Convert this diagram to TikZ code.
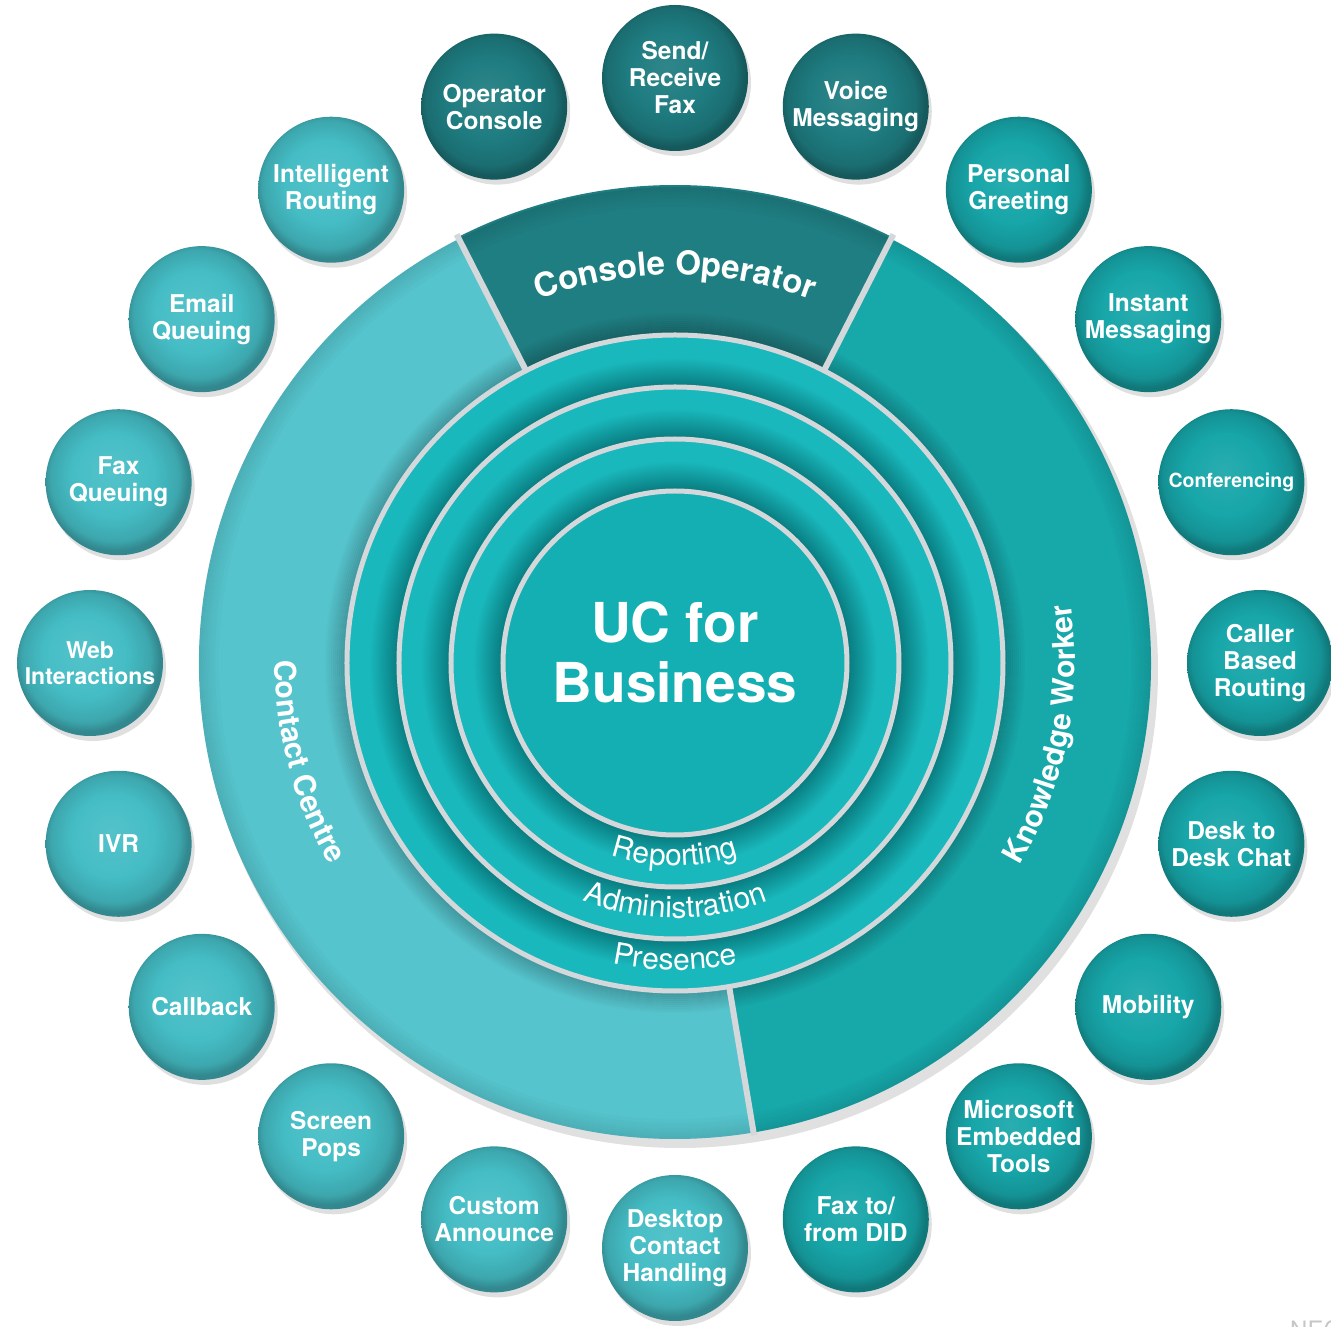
\documentclass[tikz,border=0pt]{standalone}
\usepackage{fontspec}
\setmainfont{TeX Gyre Heros}
\usetikzlibrary{decorations.text, shadows}

\definecolor{bubdark}{RGB}{30,124,128}
\definecolor{bubmid}{RGB}{23,166,169}
\definecolor{bublight}{RGB}{69,189,197}
\definecolor{ccteal}{RGB}{86,196,205}
\definecolor{kwteal}{RGB}{23,168,170}
\definecolor{coteal}{RGB}{31,126,130}
\definecolor{hubteal}{RGB}{20,175,179}
\definecolor{bandlight}{RGB}{25,184,188}
\definecolor{banddark}{RGB}{8,122,126}
\definecolor{gapgray}{RGB}{212,216,218}

\pgfdeclareradialshading{hubrings}{\pgfpointorigin}{color(0bp)=(hubteal); color(13.1bp)=(hubteal);
  color(13.15bp)=(banddark); color(15.4bp)=(bandlight); color(17.05bp)=(bandlight);
  color(17.1bp)=(banddark); color(19.4bp)=(bandlight); color(21bp)=(bandlight);
  color(21.05bp)=(banddark); color(23.3bp)=(bandlight); color(25bp)=(bandlight); color(40bp)=(bandlight)}
\pgfdeclareradialshading{bubshdark}{\pgfpoint{-3bp}{4bp}}{color(0bp)=(bubdark!92!white); color(14bp)=(bubdark);
  color(22bp)=(bubdark!88!black); color(25bp)=(bubdark!72!black); color(40bp)=(bubdark!72!black)}
\pgfdeclareradialshading{bubshmid}{\pgfpoint{-3bp}{4bp}}{color(0bp)=(bubmid!92!white); color(14bp)=(bubmid);
  color(22bp)=(bubmid!88!black); color(25bp)=(bubmid!72!black); color(40bp)=(bubmid!72!black)}
\pgfdeclareradialshading{bubshlight}{\pgfpoint{-3bp}{4bp}}{color(0bp)=(bublight!92!white); color(14bp)=(bublight);
  color(22bp)=(bublight!88!black); color(25bp)=(bublight!72!black); color(40bp)=(bublight!72!black)}

\newcommand\bubfont{\fontsize{24.5}{27}\selectfont\bfseries}
\newcommand\hubfont{\fontsize{55}{60}\selectfont\bfseries}
\newcommand\segfont{\color{white}\fontsize{33}{33}\selectfont\bfseries}
\newcommand\sidefont{\color{white}\fontsize{30}{30}\selectfont\bfseries}
\newcommand\ringfont{\color{white}\fontsize{30}{30}\selectfont}

\begin{document}
\begin{tikzpicture}[x=1pt, y=1pt]
	\tikzset{bubble/.style={circle, minimum size=146pt, inner sep=0pt, align=center, text=white, font=\bubfont,
			drop shadow={shadow xshift=3pt, shadow yshift=-5pt, opacity=0.25}},
		dark bubble/.style={bubble, shading=bubshdark},
		mid bubble/.style={bubble, shading=bubshmid},
		light bubble/.style={bubble, shading=bubshlight},
		gapline/.style={gapgray, line width=6pt},
		arclabel/.style={decorate, decoration={text along path, text align=center, text={#1}}}}

	\useasboundingbox (-675,-664) rectangle (656,663);

	\fill[black, opacity=0.12] (5,-7) circle[radius=478];
	\fill[ccteal] (0,0) -- (117:476) arc[start angle=117, end angle=279.5, radius=476] -- cycle;
	\fill[kwteal] (0,0) -- (-80.5:476) arc[start angle=-80.5, end angle=63, radius=476] -- cycle;
	\fill[coteal] (0,0) -- (63:478) arc[start angle=63, end angle=117, radius=478] -- cycle;
	\foreach \d [evaluate=\d as \op using 0.02*(10-\d)] in {0,...,9} {
		\draw[black, opacity=\op, line width=2pt] (0,0) circle[radius=331+2*\d];
		\draw[black, opacity=\op/2, line width=2pt] (0,0) circle[radius=475-2*\d];
	}
	\draw[gapline] (63:326) -- (63:481);
	\draw[gapline] (117:326) -- (117:481);
	\draw[gapline] (-80.5:326) -- (-80.5:479);

	\shade[shading=hubrings] (0,0) circle[radius=328];
	\foreach \r in {328,276,224,172}
		\draw[gapgray, line width=5pt] (0,0) circle[radius=\r];

	\node[text=white, align=center, font=\hubfont] (hub) at (0,11) {UC for\\Business};

	\path[arclabel={|\segfont|Console Operator}] (130:388) arc[start angle=130, end angle=50, radius=388];
	\path[arclabel={|\sidefont|Contact Centre}] (145:400) arc[start angle=145, end angle=245, radius=400];
	\path[arclabel={|\sidefont|Knowledge Worker}] (-61:400) arc[start angle=-61, end angle=39, radius=400];
	\path[arclabel={|\ringfont|Reporting}] (220:203) arc[start angle=220, end angle=320, radius=203];
	\path[arclabel={|\ringfont|Administration}] (220:255) arc[start angle=220, end angle=320, radius=255];
	\path[arclabel={|\ringfont|Presence}] (220:307) arc[start angle=220, end angle=320, radius=307];

	\node[dark bubble] (opconsole) at (108:585) {Operator\\Console};
	\node[dark bubble] (faxsend) at (90:585) {Send/\\Receive\\Fax};
	\node[dark bubble] (voicemsg) at (72:585) {Voice\\Messaging};
	\node[mid bubble] (greeting) at (54:585) {Personal\\Greeting};
	\node[mid bubble] (instmsg) at (36:585) {Instant\\Messaging};
	\node[mid bubble, font=\fontsize{19.5}{22}\selectfont\bfseries] (conf) at (18:585) {Conferencing};
	\node[mid bubble] (callerrt) at (0:585) {Caller\\Based\\Routing};
	\node[mid bubble] (deskchat) at (-18:585) {Desk to\\Desk Chat};
	\node[mid bubble] (mobility) at (-36:585) {Mobility};
	\node[mid bubble] (mstools) at (-54:585) {Microsoft\\Embedded\\Tools};
	\node[mid bubble] (faxdid) at (-72:585) {Fax to/\\from DID};
	\node[light bubble] (deskcc) at (-90:585) {Desktop\\Contact\\Handling};
	\node[light bubble] (announce) at (-108:585) {Custom\\Announce};
	\node[light bubble] (scrpops) at (-126:585) {Screen\\Pops};
	\node[light bubble] (callback) at (-144:585) {Callback};
	\node[light bubble] (ivr) at (-162:585) {IVR};
	\node[light bubble, font=\fontsize{23}{26}\selectfont\bfseries] (webint) at (180:585) {Web\\Interactions};
	\node[light bubble] (faxq) at (162:585) {Fax\\Queuing};
	\node[light bubble] (emailq) at (144:585) {Email\\Queuing};
	\node[light bubble] (introute) at (126:585) {Intelligent\\Routing};

	\node[text=gray!45, font=\fontsize{24}{24}\selectfont, anchor=north west, inner sep=0pt] (logo) at (615,-657) {NEC};
\end{tikzpicture}
\end{document}
